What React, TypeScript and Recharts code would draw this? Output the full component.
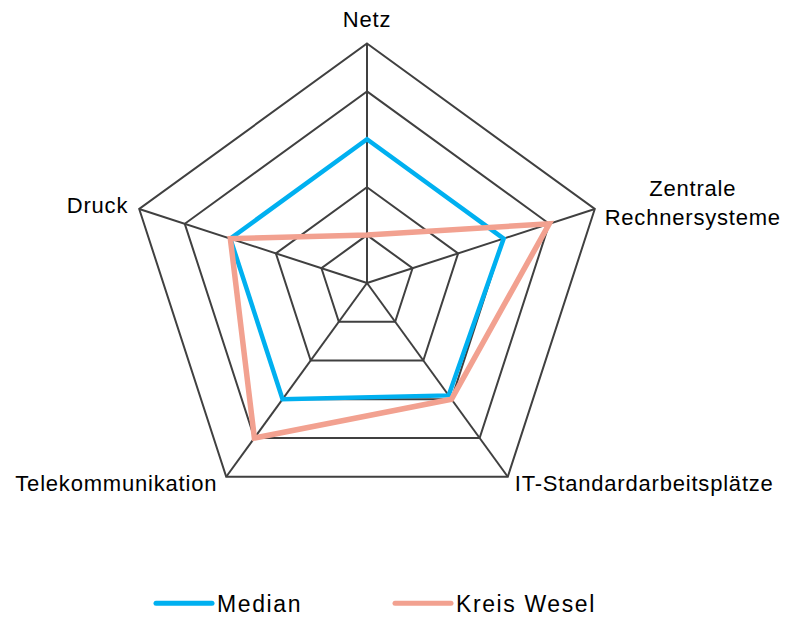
import React from 'react';
import { RadarChart, Radar, PolarGrid, PolarAngleAxis, PolarRadiusAxis, Legend } from 'recharts';

const categories = ['Netz', 'Zentrale Rechnersysteme', 'IT-Standardarbeitsplätze', 'Telekommunikation', 'Druck'];
const medianValues = [3, 3, 2.9, 3, 3];
const kreisWeselValues = [1, 4, 3, 4, 3];
const seriesNames = ['Median', 'Kreis Wesel'];
const seriesColors = ['#00B0F0', '#F2A190'];
const radiusTicks = [0, 1, 2, 3, 4, 5];

const data = categories.map((c, i) => ({ name: c, median: medianValues[i], kreis: kreisWeselValues[i] }));

const W = 786;
const H = 617;
const CX = 367;
const CY = 283;
const R = 239.5;
const FONT = '"Liberation Sans", Arial, sans-serif';

// label placement relative to polygon vertex: [dx, dy, anchor, multiline]
const labelPlacement: Array<[number, number, string, boolean]> = [
  [0, -17, 'middle', false],
  [98, -12.5, 'middle', true],
  [7, 14, 'start', false],
  [-9, 14, 'end', false],
  [-11, 4.5, 'end', false],
];

function AngleTick(props: any) {
  const { payload, index } = props;
  const a = (payload.coordinate * Math.PI) / 180;
  const vx = CX + R * Math.cos(a);
  const vy = CY - R * Math.sin(a);
  const [dx, dy, anchor, multi] = labelPlacement[index % labelPlacement.length];
  const text: string = payload.value;
  const style = { fontFamily: FONT, fontSize: 22, letterSpacing: 0.8 } as any;
  if (multi) {
    const words = text.split(' ');
    return (
      <text x={vx + dx} y={vy + dy} textAnchor={anchor as any} fill="#000" style={style}>
        {words.map((w, i) => (
          <tspan key={i} x={vx + dx} dy={i === 0 ? 0 : 28.3}>{w}</tspan>
        ))}
      </text>
    );
  }
  return (
    <text x={vx + dx} y={vy + dy} textAnchor={anchor as any} fill="#000" style={style}>
      {text}
    </text>
  );
}

const legendLeft = [156, 395];

function LegendContent(props: any) {
  const payload = [...(props.payload || [])].sort(
    (a: any, b: any) => seriesNames.indexOf(a.value) - seriesNames.indexOf(b.value)
  );
  return (
    <svg width={W} height={32} style={{ display: 'block' }}>
      {payload.map((p: any, i: number) => (
        <g key={i}>
          <line x1={legendLeft[i]} x2={legendLeft[i] + 56} y1={18.3} y2={18.3} stroke={p.color} strokeWidth={5} strokeLinecap="round" />
          <text x={legendLeft[i] + 61} y={26.7} fill="#000" style={{ fontFamily: FONT, fontSize: 23, letterSpacing: 1.6 }}>
            {p.value}
          </text>
        </g>
      ))}
    </svg>
  );
}

export default function App() {
  return (
    <div style={{ position: 'absolute', left: 0, top: 0, width: W, height: H, background: '#fff' }}>
      <RadarChart width={W} height={H} data={data} cx={CX} cy={CY} outerRadius={R} margin={{ top: 0, right: 0, bottom: 0, left: 0 }}>
        <PolarGrid gridType="polygon" stroke="#404040" strokeWidth={2} strokeOpacity={1} />
        <PolarAngleAxis dataKey="name" tick={AngleTick} tickLine={false} axisLine={false} />
        <PolarRadiusAxis domain={[0, 5]} ticks={radiusTicks as any} tickCount={6} tick={false} axisLine={false} />
        <Radar name={seriesNames[0]} dataKey="median" stroke={seriesColors[0]} strokeWidth={4.5} fill="none" fillOpacity={0} dot={false} isAnimationActive={false} />
        <Radar name={seriesNames[1]} dataKey="kreis" stroke={seriesColors[1]} strokeWidth={5.5} fill="none" fillOpacity={0} dot={false} isAnimationActive={false} />
        <Legend content={LegendContent} wrapperStyle={{ position: 'absolute', left: 0, top: 585, width: W, height: 32 }} />
      </RadarChart>
    </div>
  );
}
